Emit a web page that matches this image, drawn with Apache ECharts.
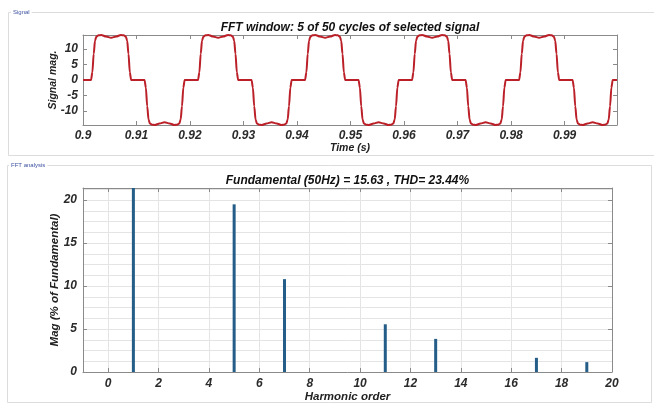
<!DOCTYPE html>
<html>
<head>
<meta charset="utf-8">
<script src="https://cdn.jsdelivr.net/npm/echarts@6/dist/echarts.min.js"></script>
<style>
  html, body { margin: 0; padding: 0; background: #fff; }
  #chart { width: 654px; height: 404px; }
</style>
</head>
<body>
<div id="chart"></div>
<script>
// Signal window: time (s) and magnitude, five 50 Hz cycles
const signalPoints = [
  [0.9,0],[0.9015,0],[0.90175,2.5],[0.902,8.5],[0.90225,12.8],[0.9025,14.1],[0.9029,14.5],[0.9034,14.6],[0.9043,14.1],[0.90525,13.7],[0.9062,14.1],[0.9071,14.6],[0.9076,14.5],[0.908,14.1],[0.90825,12.8],[0.9085,8.5],[0.90875,2.5],[0.909,0],
  [0.9115,0],[0.91175,-2.5],[0.912,-8.5],[0.91225,-12.8],[0.9125,-14.1],[0.9129,-14.5],[0.9134,-14.6],[0.9143,-14.1],[0.91525,-13.7],[0.9162,-14.1],[0.9171,-14.6],[0.9176,-14.5],[0.918,-14.1],[0.91825,-12.8],[0.9185,-8.5],[0.91875,-2.5],[0.919,0],
  [0.9215,0],[0.92175,2.5],[0.922,8.5],[0.92225,12.8],[0.9225,14.1],[0.9229,14.5],[0.9234,14.6],[0.9243,14.1],[0.92525,13.7],[0.9262,14.1],[0.9271,14.6],[0.9276,14.5],[0.928,14.1],[0.92825,12.8],[0.9285,8.5],[0.92875,2.5],[0.929,0],
  [0.9315,0],[0.93175,-2.5],[0.932,-8.5],[0.93225,-12.8],[0.9325,-14.1],[0.9329,-14.5],[0.9334,-14.6],[0.9343,-14.1],[0.93525,-13.7],[0.9362,-14.1],[0.9371,-14.6],[0.9376,-14.5],[0.938,-14.1],[0.93825,-12.8],[0.9385,-8.5],[0.93875,-2.5],[0.939,0],
  [0.9415,0],[0.94175,2.5],[0.942,8.5],[0.94225,12.8],[0.9425,14.1],[0.9429,14.5],[0.9434,14.6],[0.9443,14.1],[0.94525,13.7],[0.9462,14.1],[0.9471,14.6],[0.9476,14.5],[0.948,14.1],[0.94825,12.8],[0.9485,8.5],[0.94875,2.5],[0.949,0],
  [0.9515,0],[0.95175,-2.5],[0.952,-8.5],[0.95225,-12.8],[0.9525,-14.1],[0.9529,-14.5],[0.9534,-14.6],[0.9543,-14.1],[0.95525,-13.7],[0.9562,-14.1],[0.9571,-14.6],[0.9576,-14.5],[0.958,-14.1],[0.95825,-12.8],[0.9585,-8.5],[0.95875,-2.5],[0.959,0],
  [0.9615,0],[0.96175,2.5],[0.962,8.5],[0.96225,12.8],[0.9625,14.1],[0.9629,14.5],[0.9634,14.6],[0.9643,14.1],[0.96525,13.7],[0.9662,14.1],[0.9671,14.6],[0.9676,14.5],[0.968,14.1],[0.96825,12.8],[0.9685,8.5],[0.96875,2.5],[0.969,0],
  [0.9715,0],[0.97175,-2.5],[0.972,-8.5],[0.97225,-12.8],[0.9725,-14.1],[0.9729,-14.5],[0.9734,-14.6],[0.9743,-14.1],[0.97525,-13.7],[0.9762,-14.1],[0.9771,-14.6],[0.9776,-14.5],[0.978,-14.1],[0.97825,-12.8],[0.9785,-8.5],[0.97875,-2.5],[0.979,0],
  [0.9815,0],[0.98175,2.5],[0.982,8.5],[0.98225,12.8],[0.9825,14.1],[0.9829,14.5],[0.9834,14.6],[0.9843,14.1],[0.98525,13.7],[0.9862,14.1],[0.9871,14.6],[0.9876,14.5],[0.988,14.1],[0.98825,12.8],[0.9885,8.5],[0.98875,2.5],[0.989,0],
  [0.9915,0],[0.99175,-2.5],[0.992,-8.5],[0.99225,-12.8],[0.9925,-14.1],[0.9929,-14.5],[0.9934,-14.6],[0.9943,-14.1],[0.99525,-13.7],[0.9962,-14.1],[0.9971,-14.6],[0.9976,-14.5],[0.998,-14.1],[0.99825,-12.8],[0.9985,-8.5],[0.99875,-2.5],[0.999,0],
  [0.9998,0]
];
const timeTicks = [0.9, 0.91, 0.92, 0.93, 0.94, 0.95, 0.96, 0.97, 0.98, 0.99];
const signalTicks = [-10, -5, 0, 5, 10];

// Harmonic spectrum (% of fundamental)
const harmonicOrders = [1, 5, 7, 11, 13, 17, 19];
const harmonicMags = [100, 19.5, 10.8, 5.55, 3.85, 1.65, 1.15];
const harmonicTicks = [0, 2, 4, 6, 8, 10, 12, 14, 16, 18, 20];
const magTicks = [0, 5, 10, 15, 20];

const titleTop = 'FFT window: 5 of 50 cycles of selected signal';
const titleBottom = 'Fundamental (50Hz) = 15.63 , THD= 23.44%';

const FONT = 'Liberation Sans, Arial, sans-serif';
const boxColor = '#8a8a8a';
const gridColor = '#e4e4e4';
const labelStyle = { fontFamily: FONT, fontWeight: 'bold', fontStyle: 'italic', fontSize: 12, color: '#2b2b2b' };

function boxAxis(extra) {
  return Object.assign({
    type: 'value',
    nameMoveOverlap: false,
    axisLine: { show: true, onZero: false, lineStyle: { color: boxColor, width: 1 } },
    axisTick: { show: true, inside: true, length: 4, lineStyle: { color: boxColor } },
    axisLabel: { show: false },
    splitLine: { show: false }
  }, extra);
}

const chart = echarts.init(document.getElementById('chart'), null, { renderer: 'canvas' });

chart.setOption({
  animation: false,
  backgroundColor: '#fff',
  grid: [
    { left: 83, top: 35, width: 534, height: 90 },
    { left: 83, top: 188, width: 529, height: 184 }
  ],
  xAxis: [
    boxAxis({
      gridIndex: 0, min: 0.9, max: 0.9998, position: 'bottom',
      axisTick: { show: true, inside: true, length: 4, customValues: timeTicks, lineStyle: { color: boxColor } },
      axisLabel: Object.assign({ show: true, margin: 5, customValues: timeTicks,
        formatter: v => String(parseFloat(v.toFixed(3))) }, labelStyle),
      name: 'Time (s)', nameLocation: 'middle', nameGap: 18,
      nameTextStyle: Object.assign({}, labelStyle, { fontSize: 10.5, color: '#222' })
    }),
    boxAxis({
      gridIndex: 0, min: 0.9, max: 0.9998, position: 'top',
      axisTick: { show: true, inside: true, length: 4, customValues: timeTicks, lineStyle: { color: boxColor } }
    }),
    boxAxis({
      gridIndex: 1, min: -1, max: 20, interval: 0.5, position: 'bottom',
      splitLine: { show: true, lineStyle: { color: gridColor, width: 1 } },
      axisTick: { show: true, inside: true, length: 4, customValues: harmonicTicks, lineStyle: { color: boxColor } },
      axisLabel: Object.assign({ show: true, margin: 6, customValues: harmonicTicks }, labelStyle),
      name: 'Harmonic order', nameLocation: 'middle', nameGap: 19,
      nameTextStyle: Object.assign({}, labelStyle, { fontSize: 11.5, color: '#222' })
    }),
    boxAxis({
      gridIndex: 1, min: -1, max: 20, position: 'top',
      axisTick: { show: true, inside: true, length: 4, customValues: harmonicTicks, lineStyle: { color: boxColor } }
    })
  ],
  yAxis: [
    boxAxis({
      gridIndex: 0, min: -14.6, max: 14.6, position: 'left',
      axisTick: { show: true, inside: true, length: 4, customValues: signalTicks, lineStyle: { color: boxColor } },
      axisLabel: Object.assign({ show: true, margin: 5, customValues: signalTicks }, labelStyle),
      name: 'Signal mag.', nameLocation: 'middle', nameGap: 24,
      nameTextStyle: Object.assign({}, labelStyle, { fontSize: 10.5, color: '#222' })
    }),
    boxAxis({
      gridIndex: 0, min: -14.6, max: 14.6, position: 'right',
      axisTick: { show: true, inside: true, length: 4, customValues: signalTicks, lineStyle: { color: boxColor } }
    }),
    boxAxis({
      gridIndex: 1, min: 0, max: 21.4, interval: 5, position: 'left',
      splitLine: { show: true, lineStyle: { color: gridColor, width: 1 } },
      minorTick: { show: false, splitNumber: 4 },
      minorSplitLine: { show: true, lineStyle: { color: gridColor, width: 1 } },
      axisTick: { show: true, inside: true, length: 4, lineStyle: { color: boxColor } },
      axisLabel: Object.assign({ show: true, margin: 6, showMaxLabel: false }, labelStyle),
      name: 'Mag (% of Fundamental)', nameLocation: 'middle', nameGap: 22,
      nameTextStyle: Object.assign({}, labelStyle, { fontSize: 11.5, color: '#222' })
    }),
    boxAxis({
      gridIndex: 1, min: 0, max: 21.4, position: 'right',
      axisTick: { show: true, inside: true, length: 4, customValues: magTicks, lineStyle: { color: boxColor } }
    })
  ],
  series: [
    {
      type: 'line',
      xAxisIndex: 0, yAxisIndex: 0,
      data: signalPoints,
      showSymbol: false,
      smooth: 0.3,
      smoothMonotone: 'x',
      lineStyle: { color: '#bb2029', width: 2 },
      clip: true
    },
    {
      type: 'bar',
      xAxisIndex: 2, yAxisIndex: 2,
      data: harmonicOrders.map((h, i) => [h, harmonicMags[i]]),
      barWidth: 3,
      clip: true,
      itemStyle: { color: '#245d88' }
    }
  ],
  graphic: [
    { type: 'rect', silent: true, z: -1, shape: { x: 8.5, y: 12.5, width: 660, height: 143 },
      style: { fill: 'none', stroke: '#dcdcdc', lineWidth: 1 } },
    { type: 'rect', silent: true, z: -1, shape: { x: 7.5, y: 165.5, width: 644, height: 237 },
      style: { fill: 'none', stroke: '#dcdcdc', lineWidth: 1 } },
    { type: 'text', x: 11, y: 12, style: { text: 'Signal', font: '6px ' + FONT, fill: '#3d52a0',
      verticalAlign: 'middle', backgroundColor: '#fff', padding: [0, 2] } },
    { type: 'text', x: 9, y: 165, style: { text: 'FFT analysis', font: '6px ' + FONT, fill: '#3d52a0',
      verticalAlign: 'middle', backgroundColor: '#fff', padding: [0, 2] } },
    { type: 'text', x: 350, y: 28, style: { text: titleTop, font: 'italic bold 12px ' + FONT, fill: '#111',
      align: 'center', verticalAlign: 'middle' } },
    { type: 'text', x: 347.5, y: 181, style: { text: titleBottom, font: 'italic bold 12px ' + FONT, fill: '#111',
      align: 'center', verticalAlign: 'middle' } }
  ]
});
</script>
</body>
</html>
